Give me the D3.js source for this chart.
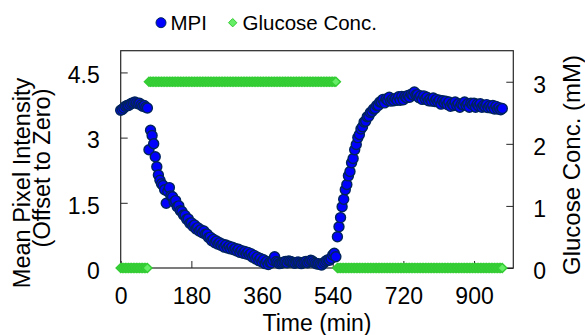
<!DOCTYPE html>
<html>
<head>
<meta charset="utf-8">
<script src="https://cdn.jsdelivr.net/npm/d3@7/dist/d3.min.js"></script>
<style>
  html, body { margin: 0; padding: 0; background: #fff; }
  svg { display: block; }
  text { font-family: "Liberation Sans", Arial, sans-serif; fill: #000; }
</style>
</head>
<body>
<svg id="chart" width="585" height="335"></svg>
<script>
// ---- data ----
const times = [0,4,8,12,16,20,24,28,32,36,40,44,48,52,56,60,64,68,72,76,
80,84,88,92,96,100,104,108,112,116,120,124,128,132,136,140,144,148,152,156,
160,164,168,172,176,180,184,188,192,196,200,204,208,212,216,220,224,228,232,236,
240,244,248,252,256,260,264,268,272,276,280,284,288,292,296,300,304,308,312,316,
320,324,328,332,336,340,344,348,352,356,360,364,368,372,376,380,384,388,392,396,
400,404,408,412,416,420,424,428,432,436,440,444,448,452,456,460,464,468,472,476,
480,484,488,492,496,500,504,508,512,516,520,524,528,532,536,540,544,548,552,556,
560,564,568,572,576,580,584,588,592,596,600,604,608,612,616,620,624,628,632,636,
640,644,648,652,656,660,664,668,672,676,680,684,688,692,696,700,704,708,712,716,
720,724,728,732,736,740,744,748,752,756,760,764,768,772,776,780,784,788,792,796,
800,804,808,812,816,820,824,828,832,836,840,844,848,852,856,860,864,868,872,876,
880,884,888,892,896,900,904,908,912,916,920,924,928,932,936,940,944,948,952,956,
960,964,968,972];

const mpi = [3.63,3.65,3.68,3.72,3.74,3.74,3.77,3.79,3.80,3.82,3.80,3.78,3.79,3.75,3.72,3.74,3.70,3.68,2.72,3.17,
3.05,2.86,2.56,2.33,2.14,2.02,1.94,1.90,1.80,1.49,1.76,1.85,1.66,1.64,1.52,1.55,1.41,1.43,1.32,1.30,
1.22,1.21,1.12,1.13,1.03,1.04,0.96,0.99,0.90,0.93,0.85,0.88,0.81,0.85,0.78,0.78,0.70,0.71,0.63,0.66,
0.58,0.62,0.55,0.58,0.52,0.55,0.48,0.53,0.46,0.50,0.44,0.48,0.42,0.45,0.39,0.43,0.36,0.40,0.34,0.38,
0.32,0.36,0.30,0.33,0.25,0.29,0.21,0.25,0.17,0.22,0.14,0.19,0.10,0.15,0.08,0.13,0.12,0.18,0.26,0.15,
0.13,0.10,0.11,0.12,0.14,0.15,0.12,0.16,0.15,0.14,0.12,0.11,0.13,0.14,0.12,0.10,0.12,0.14,0.15,0.12,
0.15,0.18,0.16,0.13,0.11,0.09,0.10,0.08,0.07,0.11,0.14,0.17,0.19,0.18,0.22,0.30,0.34,0.26,0.72,0.95,
1.16,1.41,1.58,1.80,1.92,2.12,2.22,2.42,2.52,2.72,2.84,3.00,3.07,3.20,3.25,3.36,3.38,3.48,3.49,3.58,
3.60,3.66,3.67,3.74,3.74,3.82,3.82,3.88,3.80,3.89,3.86,3.93,3.84,3.88,3.85,3.90,3.86,3.94,3.86,3.95,
3.87,3.95,3.92,3.97,3.93,4.00,3.98,4.05,3.98,3.99,3.92,3.96,3.88,3.96,3.89,3.93,3.85,3.89,3.84,3.91,
3.83,3.88,3.82,3.86,3.77,3.85,3.80,3.84,3.76,3.82,3.72,3.78,3.74,3.82,3.74,3.78,3.70,3.77,3.75,3.82,
3.74,3.78,3.70,3.79,3.76,3.79,3.70,3.77,3.73,3.78,3.70,3.74,3.71,3.76,3.69,3.73,3.68,3.74,3.66,3.72,
3.66,3.69,3.64,3.67];

const glucose = [0,0,0,0,0,0,0,0,0,0,0,0,0,0,0,0,0,0,3,3,
3,3,3,3,3,3,3,3,3,3,3,3,3,3,3,3,3,3,3,3,
3,3,3,3,3,3,3,3,3,3,3,3,3,3,3,3,3,3,3,3,
3,3,3,3,3,3,3,3,3,3,3,3,3,3,3,3,3,3,3,3,
3,3,3,3,3,3,3,3,3,3,3,3,3,3,3,3,3,3,3,3,
3,3,3,3,3,3,3,3,3,3,3,3,3,3,3,3,3,3,3,3,
3,3,3,3,3,3,3,3,3,3,3,3,3,3,3,3,3,3,0,0,
0,0,0,0,0,0,0,0,0,0,0,0,0,0,0,0,0,0,0,0,
0,0,0,0,0,0,0,0,0,0,0,0,0,0,0,0,0,0,0,0,
0,0,0,0,0,0,0,0,0,0,0,0,0,0,0,0,0,0,0,0,
0,0,0,0,0,0,0,0,0,0,0,0,0,0,0,0,0,0,0,0,
0,0,0,0,0,0,0,0,0,0,0,0,0,0,0,0,0,0,0,0,
0,0,0,0];

const xTicks = [0,180,360,540,720,900];
const yLeftTicks = [0,1.5,3,4.5];
const yRightTicks = [0,1,2,3];
const seriesNames = ["MPI","Glucose Conc."];
const xLabel = "Time (min)";
const yLeftLabel = ["Mean Pixel Intensity","(Offset to Zero)"];
const yRightLabel = "Glucose Conc. (mM)";

// ---- layout ----
const L = 120.7, R = 513.3, T = 50.7, B = 268;
const svg = d3.select("#chart");

const x = d3.scaleLinear().domain([0,1000]).range([L,R]);
const yL = d3.scaleLinear().domain([0,5]).range([B,T]);
const yR = d3.scaleLinear().domain([0,3.5]).range([B,T]);

const blueFill = "#0000ff", blueStroke = "#00245c";
const greenFill = "#66ee66", greenStroke = "#33cc33";
const axisColor = "#262626";

// axes
const fmt = d => String(d);
const gx = svg.append("g").attr("transform",`translate(0,${B})`)
  .call(d3.axisBottom(x).tickValues(xTicks).tickSize(-7).tickPadding(20).tickFormat(fmt));
const gl = svg.append("g").attr("transform",`translate(${L},0)`)
  .call(d3.axisLeft(yL).tickValues(yLeftTicks).tickSize(-7).tickPadding(21).tickFormat(fmt));
const gr = svg.append("g").attr("transform",`translate(${R},0)`)
  .call(d3.axisRight(yR).tickValues(yRightTicks).tickSize(-7).tickPadding(20).tickFormat(fmt));
[gx,gl,gr].forEach(g => {
  g.select(".domain").remove();
  g.selectAll(".tick line").attr("stroke",axisColor);
  g.selectAll(".tick text").style("font-size","23px").attr("fill","#000");
});
gl.selectAll(".tick text").attr("dy","0.45em");
gr.selectAll(".tick text").attr("dy","0.45em");

// frame
svg.append("rect").attr("x",L).attr("y",T).attr("width",R-L).attr("height",B-T)
  .attr("fill","none").attr("stroke",axisColor).attr("stroke-width",1.2);

// MPI points
const mpiData = times.map((t,i)=>({t, v: mpi[i]}));
svg.append("g").selectAll("circle").data(mpiData).join("circle")
  .attr("cx",d=>x(d.t)).attr("cy",d=>yL(d.v)).attr("r",5)
  .attr("fill",blueFill).attr("stroke",blueStroke).attr("stroke-width",1.4);

// glucose diamonds
const dia = "M0,-4.6L4.6,0L0,4.6L-4.6,0Z";
const gluData = times.map((t,i)=>({t, v: glucose[i]}));
svg.append("g").selectAll("path").data(gluData).join("path")
  .attr("d",dia)
  .attr("transform",d=>`translate(${x(d.t)},${yR(d.v)})`)
  .attr("fill",greenFill).attr("stroke",greenStroke).attr("stroke-width",1.4);

// legend
const lg = svg.append("g");
lg.append("circle").attr("cx",161).attr("cy",22.7).attr("r",5)
  .attr("fill",blueFill).attr("stroke",blueStroke);
lg.append("text").attr("x",170.5).attr("y",30.3).style("font-size","20.5px").text(seriesNames[0]);
lg.append("path").attr("d","M0,-4.2L4.2,0L0,4.2L-4.2,0Z")
  .attr("transform","translate(232.7,22.7)")
  .attr("fill",greenFill).attr("stroke",greenStroke);
lg.append("text").attr("x",242.5).attr("y",30.3).style("font-size","20.5px").text(seriesNames[1]);

// axis labels
svg.append("text").attr("x",(L+R)/2).attr("y",331).attr("text-anchor","middle")
  .style("font-size","23px").text(xLabel);
svg.append("text").attr("transform","translate(30,183) rotate(-90)")
  .attr("text-anchor","middle").style("font-size","23.5px").text(yLeftLabel[0]);
svg.append("text").attr("transform","translate(49.5,168) rotate(-90)")
  .attr("text-anchor","middle").style("font-size","23.5px").text(yLeftLabel[1]);
svg.append("text").attr("transform","translate(579.5,165) rotate(-90)")
  .attr("text-anchor","middle").style("font-size","24px").text(yRightLabel);
</script>
</body>
</html>
